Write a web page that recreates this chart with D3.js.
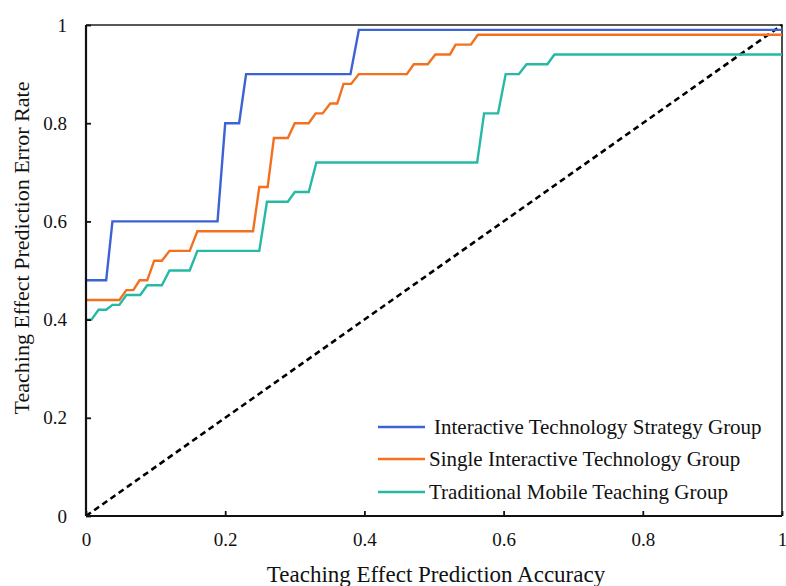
<!DOCTYPE html>
<html>
<head>
<meta charset="utf-8">
<script src="https://cdn.jsdelivr.net/npm/d3@7"></script>
<style>
  html, body { margin: 0; padding: 0; background: #fff; }
  svg { display: block; }
</style>
</head>
<body>
<svg id="chart" width="786" height="586"></svg>
<script>
// ---- data ----
const seriesNames = [
  "Interactive Technology Strategy Group",
  "Single Interactive Technology Group",
  "Traditional Mobile Teaching Group"
];
const blueX = [0, 0.029, 0.038, 0.189, 0.200, 0.220, 0.230, 0.380, 0.392, 1];
const blueY = [0.48, 0.48, 0.60, 0.60, 0.80, 0.80, 0.90, 0.90, 0.99, 0.99];
const orangeX = [0, 0.048, 0.058, 0.068, 0.077, 0.088, 0.098, 0.109, 0.120, 0.149, 0.160, 0.240, 0.249, 0.261, 0.270, 0.290, 0.300, 0.320, 0.330, 0.340, 0.351, 0.361, 0.370, 0.381, 0.392, 0.461, 0.471, 0.491, 0.502, 0.523, 0.531, 0.553, 0.563, 1];
const orangeY = [0.44, 0.44, 0.46, 0.46, 0.48, 0.48, 0.52, 0.52, 0.54, 0.54, 0.58, 0.58, 0.67, 0.67, 0.77, 0.77, 0.80, 0.80, 0.82, 0.82, 0.84, 0.84, 0.88, 0.88, 0.90, 0.90, 0.92, 0.92, 0.94, 0.94, 0.96, 0.96, 0.98, 0.98];
const tealX = [0, 0.008, 0.018, 0.029, 0.038, 0.048, 0.058, 0.078, 0.088, 0.109, 0.120, 0.149, 0.160, 0.249, 0.260, 0.290, 0.300, 0.320, 0.331, 0.562, 0.572, 0.592, 0.603, 0.622, 0.633, 0.663, 0.673, 1];
const tealY = [0.40, 0.40, 0.42, 0.42, 0.43, 0.43, 0.45, 0.45, 0.47, 0.47, 0.50, 0.50, 0.54, 0.54, 0.64, 0.64, 0.66, 0.66, 0.72, 0.72, 0.82, 0.82, 0.90, 0.90, 0.92, 0.92, 0.94, 0.94];
const refX = [0, 1];
const refY = [0, 1];
const xTicks = [0, 0.2, 0.4, 0.6, 0.8, 1];
const yTicks = [0, 0.2, 0.4, 0.6, 0.8, 1];
const xTitle = "Teaching Effect Prediction Accuracy";
const yTitle = "Teaching Effect Prediction Error Rate";
const colors = ["#3c63d4", "#f2711f", "#25b9a6"];

// ---- drawing ----
const svg = d3.select("#chart");
const font = "'Liberation Serif', 'Times New Roman', serif";
const x = d3.scaleLinear().domain([0, 1]).range([86, 782]);
const y = d3.scaleLinear().domain([0, 1]).range([516, 25]);

const zip = (xs, ys) => xs.map((v, i) => [v, ys[i]]);
const line = d3.line().x(d => x(d[0])).y(d => y(d[1]));

// frame (top & right)
svg.append("path")
  .attr("d", `M${x(0)},${y(1)}H${x(1)}V${y(0)}`)
  .attr("fill", "none").attr("stroke", "#222").attr("stroke-width", 1.6);

// reference diagonal
svg.append("path").datum(zip(refX, refY))
  .attr("d", line).attr("fill", "none")
  .attr("stroke", "#000").attr("stroke-width", 2.6)
  .attr("stroke-dasharray", "6,4");

// series
const series = [zip(blueX, blueY), zip(orangeX, orangeY), zip(tealX, tealY)];
series.forEach((s, i) => {
  svg.append("path").datum(s)
    .attr("d", line).attr("fill", "none")
    .attr("stroke", colors[i]).attr("stroke-width", 2.4)
    .attr("stroke-linejoin", "miter");
});

// axes
const fmt = d => d3.format("")(+d.toFixed(1));
const xAxis = d3.axisBottom(x).tickValues(xTicks).tickSize(-5).tickPadding(17).tickFormat(fmt);
const yAxis = d3.axisLeft(y).tickValues(yTicks).tickSize(-5).tickPadding(19).tickFormat(fmt);

const gx = svg.append("g").attr("transform", `translate(0,${y(0)})`).call(xAxis);
const gy = svg.append("g").attr("transform", `translate(${x(0)},0)`).call(yAxis);
[gx, gy].forEach(g => {
  g.select(".domain").attr("stroke", "#111").attr("stroke-width", 2.2);
  g.selectAll(".tick line").attr("stroke", "#111").attr("stroke-width", 1.8);
  g.selectAll(".tick text").attr("font-family", font).attr("font-size", 19).attr("fill", "#111");
});
gx.select(".domain").attr("d", `M${x(0)},0H${x(1)}`);
gy.select(".domain").attr("d", `M0,${y(0)}V${y(1)}`);
gx.selectAll(".tick text").attr("dy", "0.71em");

// axis titles
svg.append("text")
  .attr("x", 436).attr("y", 582)
  .attr("text-anchor", "middle")
  .attr("font-family", font).attr("font-size", 23).attr("fill", "#111")
  .text(xTitle);
svg.append("text")
  .attr("transform", "translate(29,248) rotate(-90)")
  .attr("text-anchor", "middle")
  .attr("font-family", font).attr("font-size", 22).attr("fill", "#111")
  .text(yTitle);

// legend
const legY = [427, 459, 492];
const legTextX = [434, 429, 429];
seriesNames.forEach((name, i) => {
  svg.append("line")
    .attr("x1", 378).attr("x2", 425)
    .attr("y1", legY[i]).attr("y2", legY[i])
    .attr("stroke", colors[i]).attr("stroke-width", 2.4);
  svg.append("text")
    .attr("x", legTextX[i]).attr("y", legY[i]).attr("dy", "0.35em")
    .attr("font-family", font).attr("font-size", 21).attr("fill", "#111")
    .text(name);
});
</script>
</body>
</html>
